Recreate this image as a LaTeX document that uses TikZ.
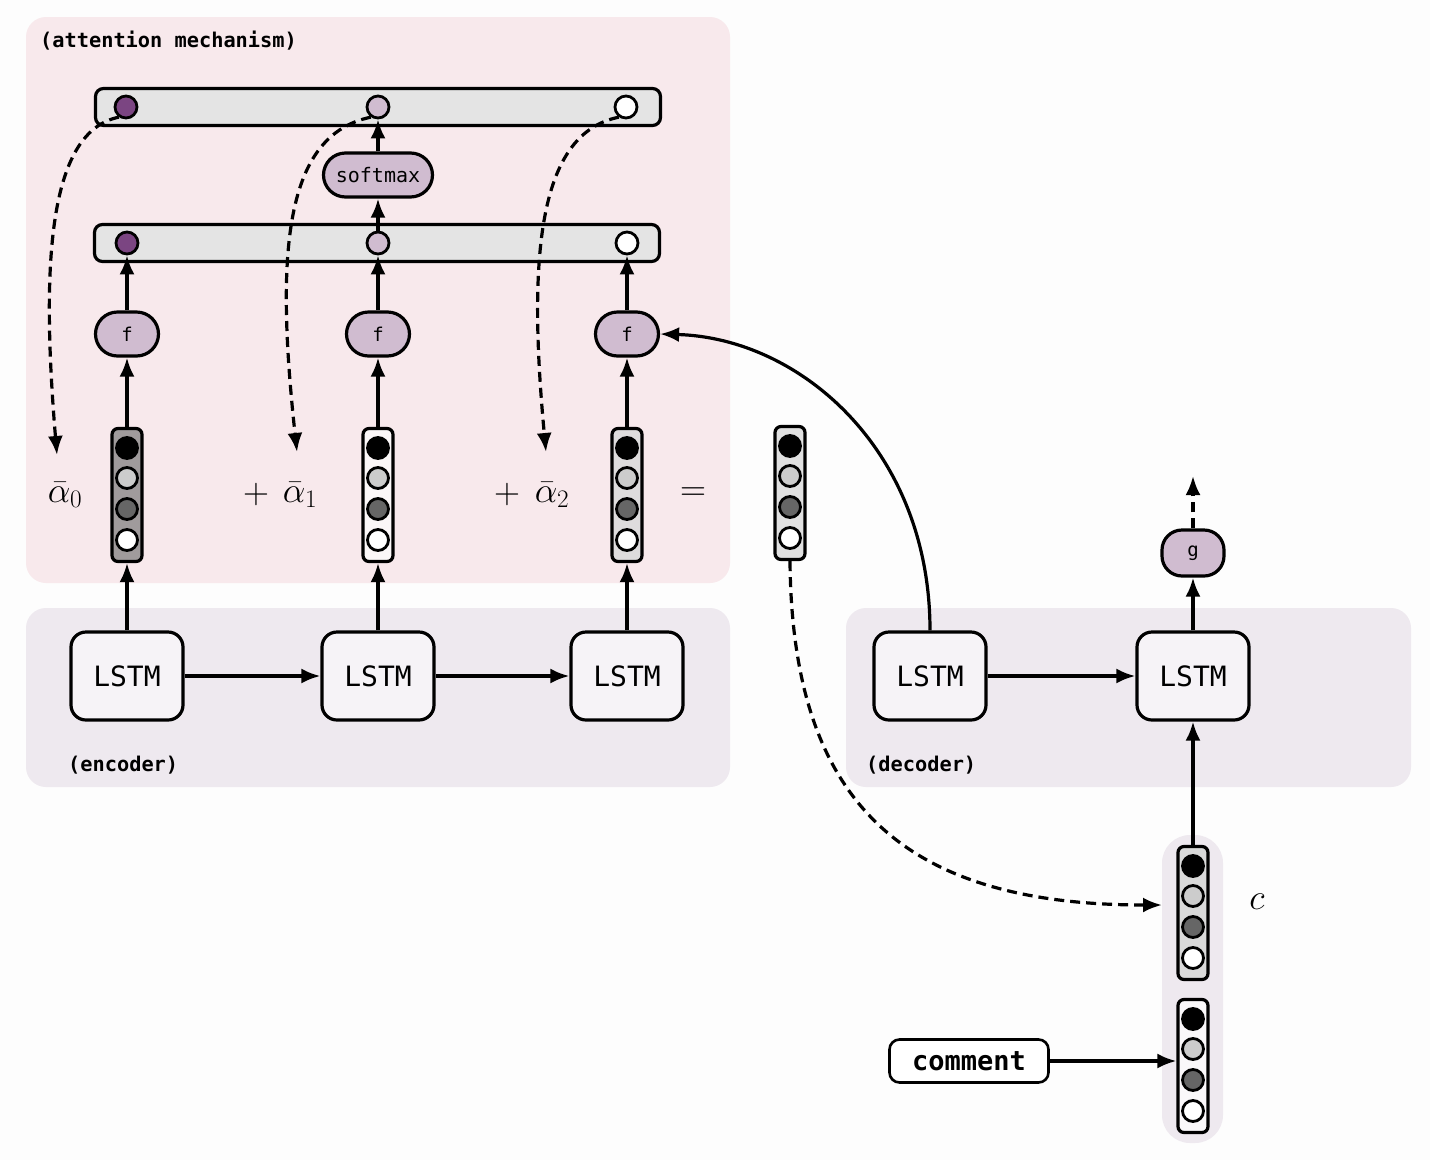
\RequirePackage{fix-cm}
\documentclass[tikz,border=0pt]{standalone}
\usepackage{fontspec}
\usetikzlibrary{arrows.meta}

\newfontfamily\opfont{DejaVu Sans Mono}

\definecolor{pagebg}{RGB}{253,253,253}
\definecolor{attnbg}{RGB}{248,233,236}
\definecolor{rnnbg}{RGB}{238,233,239}
\definecolor{cellfill}{RGB}{246,243,247}
\definecolor{barfill}{RGB}{228,228,228}
\definecolor{opfill}{RGB}{208,188,208}
\definecolor{wdark}{RGB}{123,69,130}
\definecolor{hone}{RGB}{160,155,156}
\definecolor{htwo}{RGB}{251,247,248}
\definecolor{hthree}{RGB}{222,220,221}
\definecolor{hctx}{RGB}{224,224,224}
\definecolor{hc}{RGB}{217,217,217}
\definecolor{hin}{RGB}{250,248,250}
\definecolor{ugrey}{RGB}{204,204,204}
\definecolor{udark}{RGB}{102,102,102}

\begin{document}
\begin{tikzpicture}[
		x = 1pt, y = -1pt,
		cell/.style = {draw, line width=3.2pt, fill=cellfill, rounded corners=15pt,
			minimum width=112pt, minimum height=88pt, inner sep=0pt,
			font=\opfont\fontsize{28}{32}\selectfont},
		op/.style   = {draw, line width=3.2pt, fill=opfill, rounded corners=22pt,
			minimum height=44pt, inner sep=0pt, font=\opfont\fontsize{19}{22}\selectfont},
		bar/.style  = {draw, line width=3.2pt, fill=barfill, rounded corners=8pt,
			minimum width=565pt, minimum height=37pt},
		vec/.style  = {draw, line width=3.2pt, rounded corners=6pt,
			minimum width=30pt, minimum height=133pt, inner sep=0pt},
		dot/.style  = {circle, draw, line width=2.8pt, minimum size=21pt, inner sep=0pt},
		tag/.style  = {anchor=west, inner sep=0pt, font=\opfont\bfseries\fontsize{20.3}{24}\selectfont},
		sym/.style  = {inner sep=0pt, font=\fontsize{36}{42}\selectfont},
		arr/.style  = {line width=3.2pt, -{Latex[length=19pt,width=15pt]}},
		darr/.style = {arr, dash pattern=on 10pt off 6pt}
		]
		\path[use as bounding box, fill=pagebg] (0,0) rectangle (1430,1160);
		
		% panels
		\fill[attnbg, rounded corners=20pt] (26,17) rectangle (730,583);
		\fill[rnnbg, rounded corners=20pt] (26,608) rectangle (730,787);
		\fill[rnnbg, rounded corners=20pt] (846,608) rectangle (1411,787);
		\fill[rnnbg, rounded corners=28pt] (1162,835) rectangle (1223,1143);
		
		\node[tag] (lattn) at (40,41)  {(attention mechanism)};
		\node[tag] (lenc)  at (68,765) {(encoder)};
		\node[tag] (ldec)  at (866,765) {(decoder)};
		
		% attention weights
		\node[bar] (tbar) at (378,107) {};
		\node[dot, fill=wdark,  minimum size=22pt] (t1) at (126,107) {};
		\node[dot, fill=opfill, minimum size=22pt] (t2) at (378,107) {};
		\node[dot, fill=white,  minimum size=22pt] (t3) at (626,107) {};
		
		\node[op, minimum width=109pt, font=\opfont\fontsize{20}{24}\selectfont] (smax) at (378,175) {softmax};
		
		\node[bar] (bbar) at (377,243) {};
		\node[dot, fill=wdark,  minimum size=22pt] (b1) at (127,243) {};
		\node[dot, fill=opfill, minimum size=22pt] (b2) at (378,243) {};
		\node[dot, fill=white,  minimum size=22pt] (b3) at (627,243) {};
		
		\node[op, minimum width=63pt] (f1) at (127,334) {f};
		\node[op, minimum width=63pt] (f2) at (378,334) {f};
		\node[op, minimum width=63pt] (f3) at (627,334) {f};
		
		% hidden states
		\node[vec, fill=hone]   (h1)   at (127,495) {};
		\node[vec, fill=htwo]   (h2)   at (378,495) {};
		\node[vec, fill=hthree] (h3)   at (627,495) {};
		\node[vec, fill=hctx]   (hctx) at (790,493) {};
		\node[vec, fill=hc]     (cv)   at (1193,913) {};
		\node[vec, fill=hin]    (xv)   at (1193,1066) {};
		\foreach \v in {h1,h2,h3,hctx,cv,xv}
		\foreach \i/\c/\dy in {1/black/47, 2/ugrey/17, 3/udark/-14, 4/white/-45}
		\node[dot, fill=\c, yshift=\dy] (\v-\i) at (\v) {};
		
		\node[sym] (a0)  at (65,495)  {$\bar{\alpha}_0$};
		\node[sym] (p1)  at (256,494) {$+$};
		\node[sym] (a1)  at (300,495) {$\bar{\alpha}_1$};
		\node[sym] (p2)  at (507,494) {$+$};
		\node[sym] (a2)  at (552,495) {$\bar{\alpha}_2$};
		\node[sym] (eq)  at (693,494) {$=$};
		\node[sym] (clbl) at (1257,902) {$c$};
		
		% encoder and decoder
		\node[cell] (e1) at (127,676)  {LSTM};
		\node[cell] (e2) at (378,676)  {LSTM};
		\node[cell] (e3) at (627,676)  {LSTM};
		\node[cell] (d1) at (930,676)  {LSTM};
		\node[cell] (d2) at (1193,676) {LSTM};
		
		\node[op, minimum width=62pt, minimum height=46pt, rounded corners=20pt] (g) at (1193,553) {g};
		
		\node[draw, line width=2.6pt, fill=white, rounded corners=10pt, minimum width=159pt,
		minimum height=43pt, inner sep=0pt, font=\opfont\bfseries\fontsize{27}{30}\selectfont]
		(cmt) at (969,1061) {comment};
		
		\coordinate (ta0)  at (57,455);
		\coordinate (ta1)  at (297,452);
		\coordinate (ta2)  at (546,452);
		\coordinate (ctip) at (1162,905);
		\coordinate (gout) at (1193,476);
		
		\draw[arr] (e1.east) -- (e2.west);
		\draw[arr] (e2.east) -- (e3.west);
		\draw[arr] (d1.east) -- (d2.west);
		
		\draw[arr] (e1.north) -- (h1.south);
		\draw[arr] (e2.north) -- (h2.south);
		\draw[arr] (e3.north) -- (h3.south);
		\draw[arr] (h1.north) -- (f1.south);
		\draw[arr] (h2.north) -- (f2.south);
		\draw[arr] (h3.north) -- (f3.south);
		\draw[arr] (f1.north) -- (b1.south);
		\draw[arr] (f2.north) -- (b2.south);
		\draw[arr] (f3.north) -- (b3.south);
		\draw[arr] (b2.north) -- (smax.south);
		\draw[arr] (smax.north) -- (t2.south);
		
		\draw[arr] (d1.north) .. controls (930,450) and (800,338) .. (f3.east);
		\draw[arr] (d2.north) -- (g.south);
		\draw[darr] (g.north) -- (gout);
		\draw[arr] (cv.north) -- (d2.south);
		\draw[arr] (cmt.east) -- (cmt.east -| xv.west);
		
		\draw[darr] (t1.-125) .. controls (51,131) and (40,253) .. (ta0);
		\draw[darr] (t2.-125) .. controls (285,135) and (275,250) .. (ta1);
		\draw[darr] (t3.-125) .. controls (540,133) and (527,250) .. (ta2);
		\draw[darr] (hctx.south) .. controls (792,800) and (900,905) .. (ctip);
	\end{tikzpicture}
\end{document}
